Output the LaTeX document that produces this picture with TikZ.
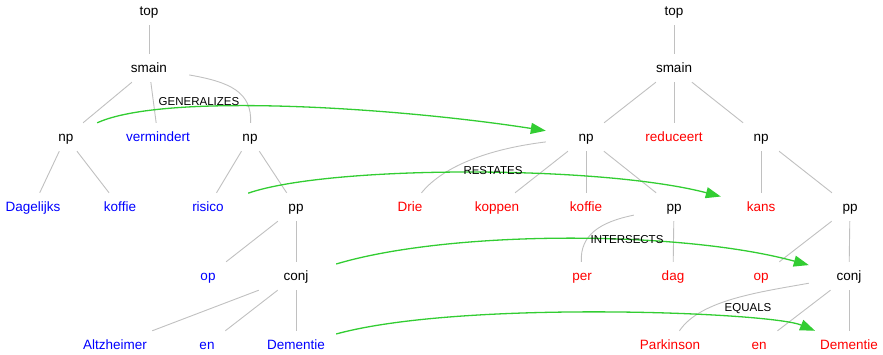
\documentclass[tikz,border=0pt]{standalone}
\usepackage{fontspec}
\setmainfont{Liberation Sans}
\usetikzlibrary{arrows.meta}

\definecolor{wordblue}{RGB}{0,0,255}
\definecolor{wordred}{RGB}{255,0,0}
\definecolor{edgegray}{RGB}{192,192,192}
\definecolor{relgreen}{RGB}{50,205,50}

\begin{document}
\begin{tikzpicture}[
    x=1pt, y=-1pt,
    treenode/.style={rectangle, minimum width=80pt, minimum height=28pt, inner sep=0pt, text height=12pt, text depth=3pt, font=\fontsize{13.5}{16}\selectfont},
    catnode/.style={treenode, text=black},
    leftword/.style={treenode, text=wordblue},
    rightword/.style={treenode, text=wordred},
    treeedge/.style={draw=edgegray, line width=0.9pt},
    relation/.style={draw=relgreen, line width=1.3pt, -{Triangle[length=15pt, width=11pt]}},
    rellabel/.style={inner sep=0pt, font=\fontsize{11.5}{13}\selectfont},
]

    \useasboundingbox (0,0) rectangle (883,355);

    % left tree: category nodes
    \foreach \id/\posX/\posY/\txt in {
    Ltop/149/11/top,
    Lsmain/149/68/smain,
    Lnp_1/66/137/np,
    Lnp_2/250/137/np,
    Lpp/296/207/pp,
    Lconj/296/276/conj}
    {
        \node at (\posX, \posY) [catnode] (\id) {\txt};
    }

    % left tree: words (blue)
    \foreach \id/\posX/\posY/\txt in {
    Lverm/158/137/vermindert,
    LDagelijks/33/207/Dagelijks,
    Lkoffie/120/207/koffie,
    Lrisico/208/207/risico,
    Lop/208/276/op,
    LAltzheimer/115/345/Altzheimer,
    Len/207/345/en,
    LDementie/296/345/Dementie}
    {
        \node at (\posX, \posY) [leftword] (\id) {\txt};
    }

    % right tree: category nodes
    \foreach \id/\posX/\posY/\txt in {
    Rtop/674/11/top,
    Rsmain/674/68/smain,
    Rnp_1/586/137/np,
    Rnp_2/761/137/np,
    Rpp_1/674/207/pp,
    Rpp_2/850/207/pp,
    Rconj/849/276/conj}
    {
        \node at (\posX, \posY) [catnode] (\id) {\txt};
    }

    % right tree: words (red)
    \foreach \id/\posX/\posY/\txt in {
    Rreduceert/674/137/reduceert,
    RDrie/410/207/Drie,
    Rkoppen/497/207/koppen,
    Rkoffie/586/207/koffie,
    Rkans/761/207/kans,
    Rper/582/276/per,
    Rdag/673/276/dag,
    Rop/761/276/op,
    RParkinson/670/345/Parkinson,
    Ren/759/345/en,
    RDementie/849/345/Dementie}
    {
        \node at (\posX, \posY) [rightword] (\id) {\txt};
    }

    % straight tree edges
    \foreach \start/\end in {
    Ltop/Lsmain, Lsmain/Lnp_1, Lsmain/Lverm,
    Lnp_1/LDagelijks, Lnp_1/Lkoffie, Lnp_2/Lrisico, Lnp_2/Lpp,
    Lpp/Lop, Lpp/Lconj, Lconj/LAltzheimer, Lconj/Len, Lconj/LDementie,
    Rtop/Rsmain, Rsmain/Rnp_1, Rsmain/Rreduceert, Rsmain/Rnp_2,
    Rnp_1/Rkoppen, Rnp_1/Rkoffie, Rnp_1/Rpp_1, Rnp_2/Rkans, Rnp_2/Rpp_2,
    Rpp_1/Rdag, Rpp_2/Rop, Rpp_2/Rconj, Rconj/Ren, Rconj/RDementie}
    {
        \draw [treeedge] (\start) -- (\end) ;
    }

    % bent tree edges
    % ax/ay, bx/by: the two control points
    \foreach \start/\end/\ax/\ay/\bx/\by in {
    Lsmain/Lnp_2/230/82/252/92,
    Rnp_1/RDrie/480/150/440/170,
    Rpp_1/Rper/600/222/580/235,
    Rconj/RParkinson/760/292/700/300}
    {
        \draw [treeedge] (\start) .. controls (\ax, \ay) and (\bx, \by) .. (\end) ;
    }

    % relations between the two trees
    \foreach \start/\end/\ax/\ay/\bx/\by in {
    Lnp_1/Rnp_1/165/92/400/108,
    Lrisico/Rkans/330/165/600/165,
    Lconj/Rconj/450/230/680/230,
    LDementie/RDementie/460/300/770/312}
    {
        \draw [relation] (\start) .. controls (\ax, \ay) and (\bx, \by) .. (\end) ;
    }

    % relation labels
    \foreach \id/\posX/\posY/\txt in {
    relGen/199/101.5/GENERALIZES,
    relRes/493/171/RESTATES,
    relInt/627/240/INTERSECTS,
    relEqu/748/308.5/EQUALS}
    {
        \node at (\posX, \posY) [rellabel] (\id) {\txt};
    }

\end{tikzpicture}
\end{document}
